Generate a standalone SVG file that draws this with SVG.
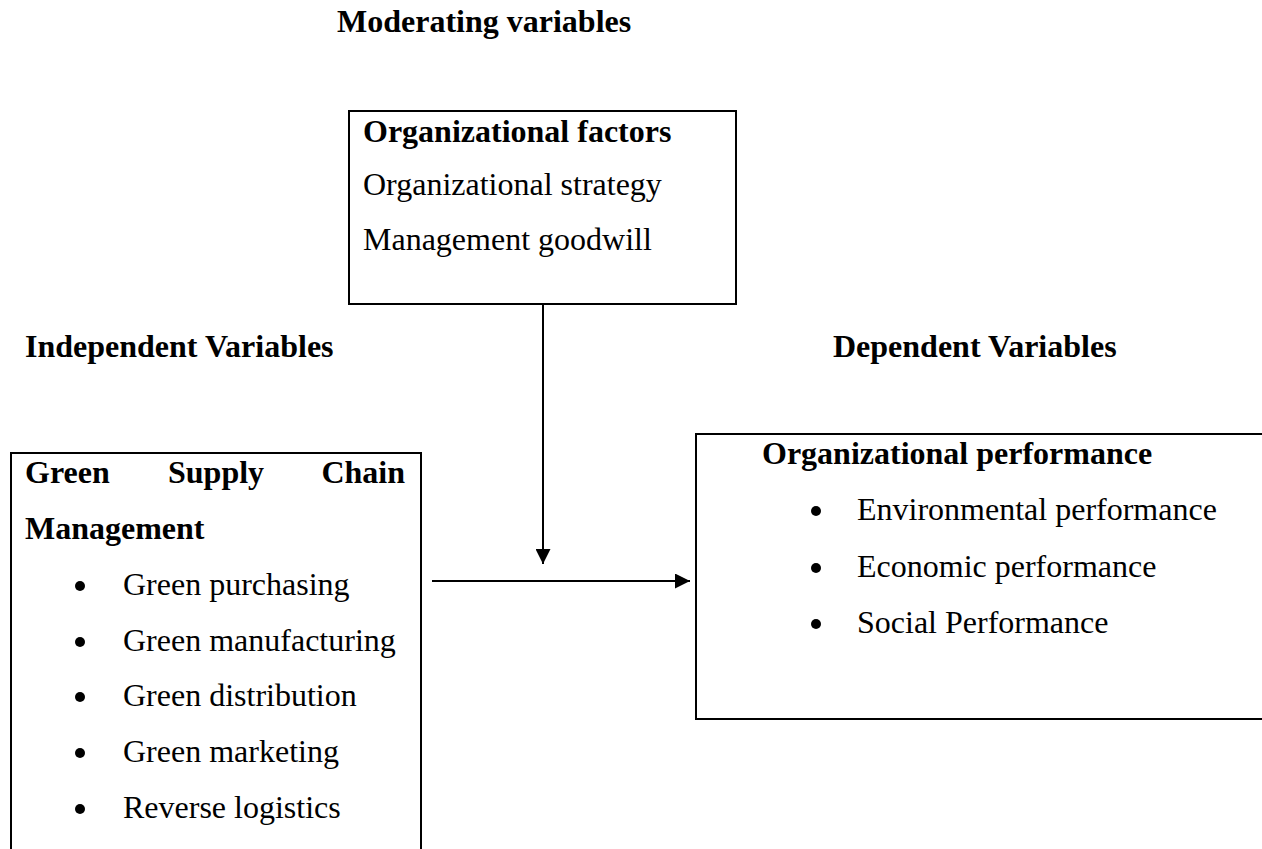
<svg xmlns="http://www.w3.org/2000/svg" width="1262" height="849" viewBox="0 0 1262 849">
  <style>
    text { font-family: "Liberation Serif", "Times New Roman", serif; font-size: 32px; fill: #000; }
    .b { font-weight: bold; }
    .edge { fill: none; stroke: #000; stroke-width: 2; }
    .dot { fill: #000; }
  </style>
  <defs>
    <marker id="arrow" markerUnits="userSpaceOnUse" markerWidth="15" markerHeight="15" refX="15" refY="7.5" orient="auto">
      <path d="M0,0 L15,7.5 L0,15 z" fill="#000"/>
    </marker>
  </defs>
  <rect width="1262" height="849" fill="#fff"/>

  <!-- Section headings -->
  <g id="headings">
    <text class="b" x="337" y="32">Moderating variables</text>
    <text class="b" x="25" y="357">Independent Variables</text>
    <text class="b" x="833" y="357">Dependent Variables</text>
  </g>

  <!-- Moderator box -->
  <g id="organizational-factors">
    <rect class="edge" x="349" y="111" width="387" height="193"/>
    <text class="b" x="363" y="142">Organizational factors</text>
    <text x="363" y="195">Organizational strategy</text>
    <text x="363" y="250">Management goodwill</text>
  </g>

  <!-- Independent variable box (runs off the bottom edge) -->
  <g id="gscm">
    <path class="edge" d="M11,849 V453 H421 V849"/>
    <text class="b" x="25" y="483">Green</text>
    <text class="b" x="168" y="483">Supply</text>
    <text class="b" x="405" y="483" text-anchor="end">Chain</text>
    <text class="b" x="25" y="539">Management</text>
    <circle class="dot" cx="80" cy="586" r="5"/>
    <text x="123" y="595">Green purchasing</text>
    <circle class="dot" cx="80" cy="642" r="5"/>
    <text x="123" y="651">Green manufacturing</text>
    <circle class="dot" cx="80" cy="697" r="5"/>
    <text x="123" y="706">Green distribution</text>
    <circle class="dot" cx="80" cy="753" r="5"/>
    <text x="123" y="762">Green marketing</text>
    <circle class="dot" cx="80" cy="809" r="5"/>
    <text x="123" y="818">Reverse logistics</text>
  </g>

  <!-- Dependent variable box (open on the right) -->
  <g id="organizational-performance">
    <path class="edge" d="M1262,434 H696 V719 H1262"/>
    <text class="b" x="762" y="464">Organizational performance</text>
    <circle class="dot" cx="816" cy="511" r="5"/>
    <text x="857" y="520">Environmental performance</text>
    <circle class="dot" cx="816" cy="568" r="5"/>
    <text x="857" y="577">Economic performance</text>
    <circle class="dot" cx="816" cy="624" r="5"/>
    <text x="857" y="633">Social Performance</text>
  </g>

  <!-- Connectors -->
  <g id="connectors">
    <line class="edge" x1="543" y1="305" x2="543" y2="564" marker-end="url(#arrow)"/>
    <line class="edge" x1="432" y1="581" x2="690" y2="581" marker-end="url(#arrow)"/>
  </g>
</svg>
